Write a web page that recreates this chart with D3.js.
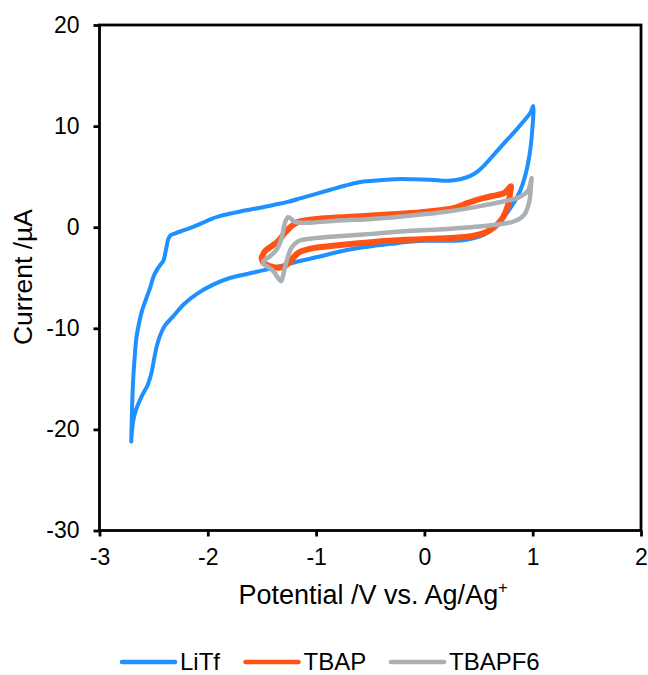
<!DOCTYPE html>
<html>
<head>
<meta charset="utf-8">
<script src="https://cdn.jsdelivr.net/npm/d3@7"></script>
<style>
  html, body { margin: 0; padding: 0; background: #fff; }
  svg { display: block; }
  text { font-family: "Liberation Sans", Arial, Helvetica, sans-serif; fill: #000; }
</style>
</head>
<body>
<svg id="chart" width="648" height="675"></svg>
<script>
// Cyclic voltammograms: [potential (V vs. Ag/Ag+), current (µA)]
const seriesNames = ["LiTf", "TBAP", "TBAPF6"];
const seriesColors = ["#1e90ff", "#ff5215", "#aab0b3"];

const litf = [
  [-2.707, -21.2], [-2.69, -19.2], [-2.664, -18.1], [-2.614, -16.8], [-2.555, -15.6],
  [-2.52, -14.4], [-2.49, -12.7], [-2.456, -11.2], [-2.40, -9.8], [-2.318, -8.8],
  [-2.219, -7.6], [-2.087, -6.5], [-1.955, -5.7], [-1.79, -5.0], [-1.626, -4.6],
  [-1.46, -4.2], [-1.296, -3.75], [-1.13, -3.3], [-0.966, -2.9], [-0.80, -2.45],
  [-0.637, -2.1], [-0.472, -1.85], [-0.307, -1.65], [-0.142, -1.45], [0.022, -1.35],
  [0.187, -1.35], [0.352, -1.3], [0.45, -1.1], [0.55, -0.75], [0.65, 0.0],
  [0.73, 0.95], [0.81, 2.15], [0.88, 3.5], [0.93, 5.05], [0.97, 7.1],
  [0.995, 9.5], [1.005, 12.0],
  [0.98, 11.35], [0.91, 10.4], [0.83, 9.4], [0.73, 8.25], [0.64, 7.15],
  [0.56, 6.2], [0.49, 5.5], [0.42, 5.05], [0.33, 4.75], [0.22, 4.6], [0.055, 4.7],
  [-0.11, 4.75], [-0.274, 4.75], [-0.472, 4.6], [-0.604, 4.45], [-0.736, 4.1],
  [-0.868, 3.7], [-1.0, 3.3], [-1.131, 2.9], [-1.263, 2.5], [-1.395, 2.2],
  [-1.527, 1.9], [-1.66, 1.65], [-1.79, 1.35], [-1.89, 1.1], [-1.972, 0.8],
  [-2.054, 0.4], [-2.136, 0.03], [-2.22, -0.3], [-2.30, -0.6], [-2.344, -0.8],
  [-2.364, -1.15], [-2.384, -2.1], [-2.41, -3.3], [-2.433, -3.65], [-2.466, -4.15],
  [-2.50, -4.85], [-2.53, -5.9], [-2.57, -7.1], [-2.607, -8.25], [-2.637, -9.6],
  [-2.66, -11.0], [-2.674, -12.7], [-2.687, -14.7], [-2.697, -17.1], [-2.703, -19.5],
  [-2.707, -21.2]
];

const tbap = [
  [-1.503, -3.03], [-1.487, -3.52], [-1.426, -3.85], [-1.35, -4.02], [-1.288, -3.85],
  [-1.227, -3.2], [-1.165, -2.54], [-1.043, -2.1], [-0.797, -1.78], [-0.49, -1.48],
  [-0.183, -1.25], [0.124, -1.12], [0.432, -0.89], [0.554, -0.56], [0.646, 0.0],
  [0.723, 0.92], [0.769, 2.08], [0.794, 3.56], [0.80, 4.05],
  [0.738, 3.39], [0.616, 3.06], [0.493, 2.73], [0.401, 2.4], [0.278, 1.91],
  [-0.029, 1.48], [-0.336, 1.25], [-0.643, 1.05], [-0.95, 0.86], [-1.165, 0.53],
  [-1.227, 0.1], [-1.288, -0.56], [-1.35, -1.38], [-1.41, -1.88], [-1.472, -2.37],
  [-1.503, -3.03]
];

const tbapf6 = [
  [-1.49, -3.6], [-1.456, -3.85], [-1.395, -4.35], [-1.324, -5.34], [-1.303, -4.68],
  [-1.272, -3.36], [-1.227, -2.04], [-1.165, -1.38], [-1.043, -1.12], [-0.797, -0.89],
  [-0.49, -0.66], [-0.183, -0.4], [0.124, -0.23], [0.432, 0.0], [0.677, 0.26],
  [0.831, 0.59], [0.923, 1.25], [0.969, 2.57], [0.984, 4.2], [0.99, 4.87],
  [0.953, 3.56], [0.861, 2.9], [0.738, 2.57], [0.585, 2.24], [0.432, 1.91],
  [0.124, 1.42], [-0.183, 1.09], [-0.49, 0.82], [-0.797, 0.66], [-1.104, 0.43],
  [-1.196, 0.53], [-1.242, 0.92], [-1.26, 0.99], [-1.288, 0.43], [-1.318, -1.05],
  [-1.364, -2.2], [-1.425, -2.87], [-1.487, -3.36], [-1.49, -3.6]
];

const xTicks = [-3, -2, -1, 0, 1, 2];
const yTicks = [-30, -20, -10, 0, 10, 20];
const xTitle = "Potential /V vs. Ag/Ag";
const yTitle = "Current /µA";

const svg = d3.select("#chart");
const plot = { left: 99.5, top: 25, right: 641, bottom: 530.5 };

const x = d3.scaleLinear().domain([-3, 2]).range([plot.left, plot.right]);
const y = d3.scaleLinear().domain([-30, 20]).range([plot.bottom, plot.top]);

// Traces
const line = d3.line()
  .x(d => x(d[0]))
  .y(d => y(d[1]))
  .curve(d3.curveCatmullRom.alpha(0.5));

const traces = [
  { data: litf, color: seriesColors[0], width: 4 },
  { data: tbap, color: seriesColors[1], width: 6 },
  { data: tbapf6, color: seriesColors[2], width: 4.5 }
];

svg.append("g").selectAll("path")
  .data(traces)
  .join("path")
  .attr("d", d => line(d.data))
  .attr("fill", "none")
  .attr("stroke", d => d.color)
  .attr("stroke-width", d => d.width)
  .attr("stroke-linejoin", "round")
  .attr("stroke-linecap", "round");

// Frame
svg.append("rect")
  .attr("x", plot.left).attr("y", plot.top)
  .attr("width", plot.right - plot.left)
  .attr("height", plot.bottom - plot.top)
  .attr("fill", "none")
  .attr("stroke", "#000")
  .attr("stroke-width", 2.8);

// Axes (plain hyphen for negative labels)
const fmt = d => String(d);
const xAxis = d3.axisBottom(x).tickValues(xTicks).tickSize(6).tickPadding(12).tickFormat(fmt);
const yAxis = d3.axisLeft(y).tickValues(yTicks).tickSize(6).tickPadding(14).tickFormat(fmt);

const gx = svg.append("g").attr("transform", `translate(0,${plot.bottom})`).call(xAxis);
const gy = svg.append("g").attr("transform", `translate(${plot.left},0)`).call(yAxis);

[gx, gy].forEach(g => {
  g.select(".domain").remove();
  g.selectAll(".tick line").attr("stroke", "#000").attr("stroke-width", 2.8);
  g.selectAll(".tick text").attr("font-size", 23).attr("fill", "#000");
});

// Axis titles
const xt = svg.append("text")
  .attr("x", 373).attr("y", 604)
  .attr("text-anchor", "middle")
  .attr("font-size", 27);
xt.append("tspan").text(xTitle);
xt.append("tspan").attr("font-size", 16).attr("dy", -11).text("+");

svg.append("text")
  .attr("transform", "translate(32,277) rotate(-90)")
  .attr("text-anchor", "middle")
  .attr("font-size", 26.5)
  .text(yTitle);

// Legend
const legendX = [122, 245.5, 391];
const legend = svg.append("g");
seriesNames.forEach((name, i) => {
  const g = legend.append("g").attr("transform", `translate(${legendX[i]},662)`);
  g.append("line")
    .attr("x1", 0).attr("x2", 53)
    .attr("stroke", seriesColors[i])
    .attr("stroke-width", 4.5)
    .attr("stroke-linecap", "round");
  g.append("text")
    .attr("x", 58).attr("y", 7.5)
    .attr("font-size", 24)
    .text(name);
});
</script>
</body>
</html>
